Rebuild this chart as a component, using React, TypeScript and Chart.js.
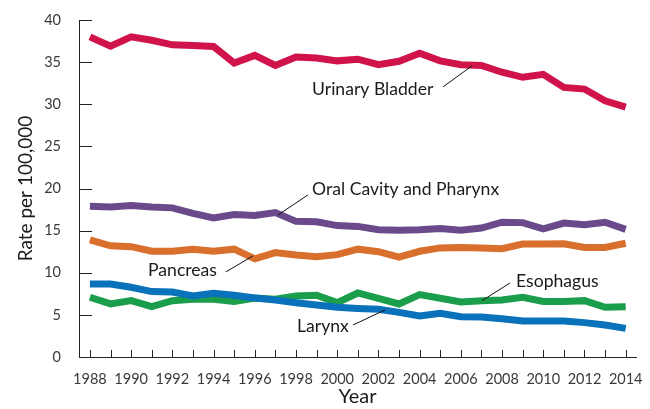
import React, { useEffect, useRef } from 'react';
import { Chart, registerables } from 'chart.js';

Chart.register(...registerables);

const years = [1988, 1989, 1990, 1991, 1992, 1993, 1994, 1995, 1996, 1997, 1998, 1999, 2000, 2001, 2002, 2003, 2004, 2005, 2006, 2007, 2008, 2009, 2010, 2011, 2012, 2013, 2014];

const urinaryBladder = [38.0, 36.9, 38.0, 37.6, 37.05, 36.97, 36.85, 34.9, 35.8, 34.6, 35.6, 35.5, 35.15, 35.35, 34.7, 35.1, 36.05, 35.15, 34.7, 34.6, 33.8, 33.2, 33.55, 32.0, 31.8, 30.4, 29.65];
const oralCavity = [17.9, 17.8, 17.97, 17.8, 17.7, 17.05, 16.5, 16.9, 16.8, 17.15, 16.1, 16.05, 15.6, 15.5, 15.1, 15.05, 15.1, 15.25, 15.05, 15.3, 16.0, 15.95, 15.2, 15.9, 15.7, 16.0, 15.15];
const pancreas = [13.9, 13.2, 13.1, 12.55, 12.55, 12.8, 12.55, 12.8, 11.65, 12.4, 12.1, 11.9, 12.15, 12.8, 12.5, 11.85, 12.55, 12.95, 13.0, 12.95, 12.85, 13.4, 13.4, 13.45, 13.0, 13.0, 13.5];
const larynx = [8.67, 8.67, 8.28, 7.76, 7.72, 7.24, 7.56, 7.33, 7.0, 6.77, 6.45, 6.18, 5.9, 5.76, 5.66, 5.3, 4.87, 5.19, 4.79, 4.75, 4.55, 4.27, 4.27, 4.27, 4.08, 3.8, 3.4];
const esophagus = [7.09, 6.3, 6.69, 5.98, 6.69, 6.85, 6.85, 6.6, 7.0, 6.85, 7.24, 7.33, 6.45, 7.6, 6.97, 6.3, 7.4, 6.97, 6.53, 6.69, 6.77, 7.09, 6.6, 6.6, 6.69, 5.9, 5.97];

const seriesNames = ['Urinary Bladder', 'Oral Cavity and Pharynx', 'Pancreas', 'Larynx', 'Esophagus'];
const seriesColors = ['#d0134a', '#6a4a8a', '#d96f2c', '#0a72bb', '#1b9e4b'];

// Label anchors in data units: [year, value] of text left-middle
const labelAnchors = [
  [1998.78, 31.83],
  [1998.78, 19.95],
  [1990.82, 10.33],
  [1998.05, 3.68],
  [2008.68, 9.03],
];
// Leader lines in data units: [year1, value1, year2, value2]
const leaderLines = [
  [2005.14, 32.07, 2006.54, 34.56],
  [1998.58, 19.24, 1997.13, 16.86],
  [1994.6, 10.1, 1995.91, 12.0],
  [2000.77, 3.8, 2002.32, 5.58],
  [2008.39, 8.79, 2007.03, 6.69],
];

const yTicks = [0, 5, 10, 15, 20, 25, 30, 35, 40];

const FONT = 'Lato, "Noto Sans", sans-serif';

const axisTicksPlugin = {
  id: 'axisTicks',
  beforeDatasetsDraw(chart: any) {
    const { ctx, scales, chartArea } = chart;
    const x = scales.x;
    const y = scales.y;
    ctx.save();
    ctx.strokeStyle = '#222';
    ctx.lineWidth = 1;
    ctx.beginPath();
    yTicks.forEach((v) => {
      const py = Math.round(y.getPixelForValue(v)) + 0.5;
      ctx.moveTo(chartArea.left, py);
      ctx.lineTo(chartArea.left + 13, py);
    });
    years.forEach((yr) => {
      const px = Math.round(x.getPixelForValue(yr)) + 0.5;
      ctx.moveTo(px, chartArea.bottom);
      ctx.lineTo(px, chartArea.bottom - 7);
    });
    ctx.stroke();
    ctx.restore();
  },
};

const annotationPlugin = {
  id: 'seriesLabels',
  afterDatasetsDraw(chart: any) {
    const { ctx, scales } = chart;
    const x = scales.x;
    const y = scales.y;
    ctx.save();
    ctx.strokeStyle = '#111';
    ctx.lineWidth = 1;
    leaderLines.forEach((l) => {
      ctx.beginPath();
      ctx.moveTo(x.getPixelForValue(l[0]), y.getPixelForValue(l[1]));
      ctx.lineTo(x.getPixelForValue(l[2]), y.getPixelForValue(l[3]));
      ctx.stroke();
    });
    ctx.fillStyle = '#1a1a1a';
    ctx.font = `17.6px ${FONT}`;
    ctx.textAlign = 'left';
    ctx.textBaseline = 'middle';
    seriesNames.forEach((name, i) => {
      const a = labelAnchors[i];
      ctx.fillText(name, x.getPixelForValue(a[0]), y.getPixelForValue(a[1]));
    });
    ctx.restore();
  },
};

export default function App() {
  const canvasRef = useRef<HTMLCanvasElement | null>(null);

  useEffect(() => {
    document.body.style.margin = '0';
    const canvas = canvasRef.current;
    if (!canvas) return;
    const allSeries = [urinaryBladder, oralCavity, pancreas, larynx, esophagus];
    const chart = new Chart(canvas, {
      type: 'line',
      data: {
        datasets: allSeries.map((vals, i) => ({
          label: seriesNames[i],
          data: years.map((yr, j) => ({ x: yr, y: vals[j] })),
          borderColor: seriesColors[i],
          backgroundColor: seriesColors[i],
          borderWidth: 7,
          pointRadius: 0,
          tension: 0,
          fill: false,
        })),
      },
      options: {
        animation: false,
        responsive: false,
        maintainAspectRatio: false,
        layout: { padding: { left: 0, right: 14, top: 20, bottom: 0 } },
        plugins: {
          legend: { display: false },
          tooltip: { enabled: false },
        },
        scales: {
          x: {
            type: 'linear',
            min: 1987.47,
            max: 2014.5,
            grid: { display: false },
            border: { display: true, color: '#222', width: 1 },
            afterFit: (s: any) => { s.height = 52; },
            afterBuildTicks: (s: any) => { s.ticks = years.filter((yr) => yr % 2 === 0).map((v) => ({ value: v })); },
            ticks: {
              autoSkip: false,
              maxRotation: 0,
              padding: 6,
              color: '#3a3a3a',
              font: { family: FONT, size: 14.5 },
              callback: (v: any) => String(v),
            },
            title: {
              display: true,
              text: 'Year',
              color: '#1a1a1a',
              font: { family: FONT, size: 20 },
              padding: { top: 0, bottom: 0 },
            },
          },
          y: {
            min: 0,
            max: 40,
            grid: { display: false },
            border: { display: true, color: '#222', width: 1 },
            afterFit: (s: any) => { s.width = 79; },
            afterBuildTicks: (s: any) => { s.ticks = yTicks.map((v) => ({ value: v })); },
            ticks: {
              padding: 10,
              color: '#3a3a3a',
              font: { family: FONT, size: 14.5 },
              callback: (v: any) => String(v),
            },
            title: {
              display: true,
              text: 'Rate per 100,000',
              color: '#1a1a1a',
              font: { family: FONT, size: 19 },
              padding: { top: 14, bottom: 0 },
            },
          },
        },
      },
      plugins: [axisTicksPlugin, annotationPlugin],
    });
    return () => chart.destroy();
  }, []);

  return (
    <div style={{ width: 650, height: 409 }}>
      <canvas ref={canvasRef} width={650} height={409} style={{ display: 'block', width: 650, height: 409 }} />
    </div>
  );
}
